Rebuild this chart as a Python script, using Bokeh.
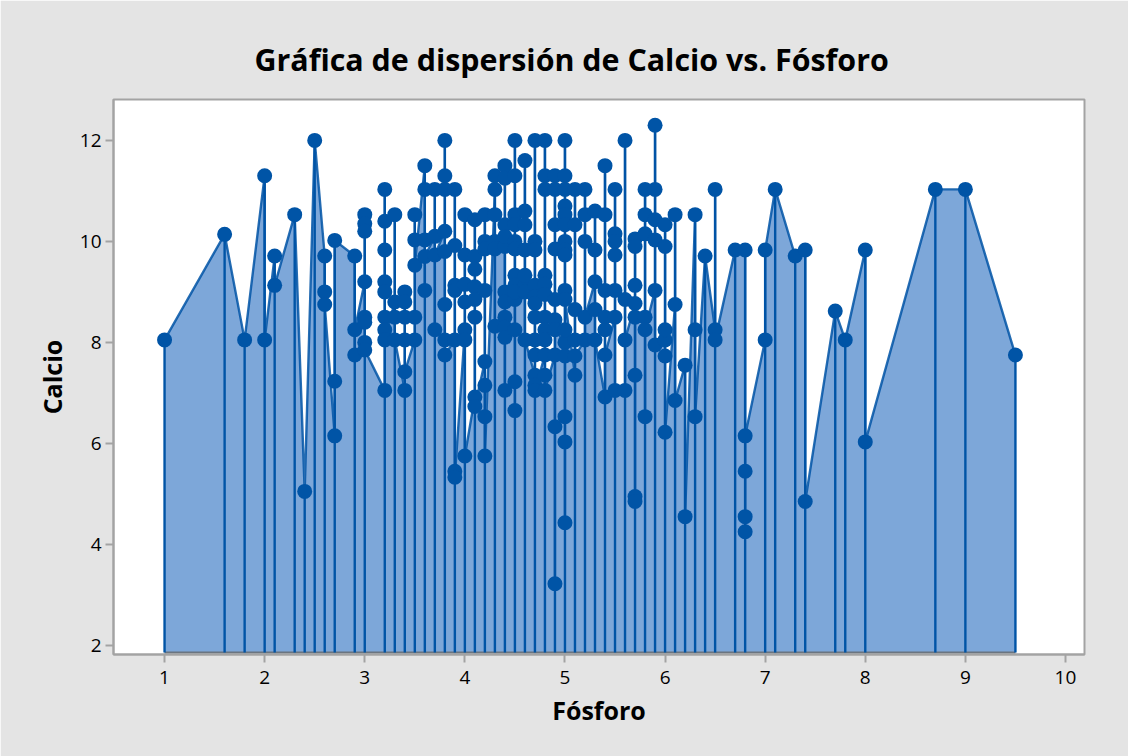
from bokeh.embed import file_html
from bokeh.resources import INLINE
from bokeh.plotting import figure
from bokeh.models import FixedTicker, Range1d

fosforo = [1.0,1.6,1.8,2.0,2.1,2.3,2.4,2.5,2.6,2.7,2.9,3.0,3.2,3.3,3.4,3.5,3.6,3.7,3.8,3.9,
           4.0,4.1,4.2,4.3,4.4,4.5,4.6,4.7,4.8,4.9,5.0,5.1,5.2,5.3,5.4,5.5,5.6,5.7,5.8,5.9,
           6.0,6.1,6.2,6.3,6.4,6.5,6.7,6.8,7.0,7.1,7.3,7.4,7.7,7.8,8.0,8.7,9.0,9.5]
calcio = [
    [8.05],[10.14],[8.05],[11.3,8.05],[9.71,9.13],[10.53],[5.05],[12.0],[9.71,9.0,8.75],
    [6.15,7.23,10.02],[9.71,7.75,8.25],[9.2,10.53,10.35,10.2,8.5,8.4,8.0,7.85],
    [7.05,11.03,10.4,9.83,9.2,9.0,8.5,8.25,8.05],[8.8,10.53,8.5,8.05],
    [7.05,9.0,8.8,8.5,8.05,7.42],[8.05,8.5,10.53,10.03,9.53],[11.5,11.03,10.03,9.03,9.7],
    [10.1,11.03,8.25,9.73],[10.2,12.0,11.3,11.03,9.8,8.75,8.05,7.75],
    [8.05,11.03,9.92,9.13,9.03,5.45,5.33],[8.25,10.53,9.73,9.15,8.8,8.05,5.75],
    [6.92,10.43,9.7,9.45,9.1,8.85,8.5,6.73],[7.62,10.53,10.0,9.85,9.03,7.15,6.53,5.75],
    [11.03,11.3,10.53,10.0,8.32,9.85],[9.9,11.5,11.25,10.33,10.1,9.0,8.5,8.3,8.1,7.05,8.8],
    [8.85,12.0,11.3,10.53,10.33,10.0,9.85,9.33,9.13,8.25,7.22,6.65,9.0],
    [9.13,11.6,10.6,10.33,9.83,9.33,9.0,8.05],[7.35,12.0,10.0,9.83,9.13,8.9,8.77,8.5,8.05,7.75,7.15,7.05],
    [7.75,12.0,11.3,11.03,9.33,9.15,8.95,8.5,8.25,8.05,7.35,7.05],
    [7.75,11.3,11.03,10.33,9.85,8.85,8.45,6.33,3.22,8.25],
    [8.0,12.0,11.3,11.03,10.7,10.53,10.33,10.0,9.83,9.73,9.03,8.25,7.73,6.53,6.03,4.43,8.85],
    [7.35,11.03,10.33,8.65,8.05,7.73],[8.05,11.03,10.53,10.0,8.5],[9.2,10.6,9.83,8.65,8.05],
    [6.92,11.5,10.53,9.03,8.5,8.25,7.75],[8.5,11.03,10.15,10.0,9.73,9.03,7.05],[7.05,12.0,8.85,8.05],
    [8.77,10.05,9.9,9.13,7.35,4.95,4.85,8.5],[8.5,11.03,10.53,10.15,6.53,8.25],
    [9.03,12.3,11.03,10.43,10.03,7.95],[8.05,10.33,9.9,8.25,7.73,6.22],[8.75,10.53,6.85],[7.55,4.55],
    [10.53,8.25,6.53],[9.71],[8.25,11.03,8.05],[9.83],[9.83,4.25,4.55,5.45,6.15],[8.05,9.83],[11.03],
    [9.71],[9.83,4.85],[8.62],[8.05],[9.83,6.03],[11.03],[11.03],[7.75]]
x_ticks = [1,2,3,4,5,6,7,8,9,10]
y_ticks = [2,4,6,8,10,12]
titulo = "Gráfica de dispersión de Calcio vs. Fósforo"

BLUE, FILL, GREY, BG = "#0054A6", "#7DA7D9", "#A3A3A3", "#E4E4E4"
FONT = "Open Sans"

px, py = [], []
for xv, ys in zip(fosforo, calcio):
    for yv in ys:
        px.append(xv)
        py.append(yv)
tops = [max(ys) for ys in calcio]

y_start, y_end = 1.82, 12.81
base = y_start + 0.04
p = figure(width=1128, height=756, output_backend="svg", toolbar_location=None,
           x_range=Range1d(0.49, 10.19), y_range=Range1d(y_start, y_end),
           min_border_left=113, min_border_right=44, min_border_top=99, min_border_bottom=102,
           background_fill_color="white", border_fill_color=BG,
           outline_line_color=GREY, outline_line_width=2)
p.grid.visible = False

p.title.text = titulo
p.title.align = "left"
p.title.offset = 141
p.title.standoff = 39
p.title.text_font = FONT
p.title.text_font_size = "30.4px"
p.title.text_font_style = "bold"
p.title.text_color = "black"

p.patch([px[0]] + px + [px[-1]], [base] + py + [base], fill_color=FILL, line_color=None)
p.line([px[0], px[-1]], [base, base], line_color="#6B7580", line_width=2)
p.segment(fosforo, [base] * len(fosforo), fosforo, tops, line_color=BLUE, line_width=2.4)
p.line(px, py, line_color=BLUE, line_width=2.4, line_alpha=0.85)
p.scatter(px, py, size=15, marker="circle", fill_color=BLUE, line_color=BLUE, line_width=0)

for ax in (p.xaxis[0], p.yaxis[0]):
    ax.axis_line_color = GREY
    ax.axis_line_width = 2
    ax.major_tick_line_color = GREY
    ax.major_tick_line_width = 2
    ax.major_tick_out = 8
    ax.major_tick_in = 0
    ax.minor_tick_line_color = None
    ax.major_label_text_font = FONT
    ax.major_label_text_font_size = "19px"
    ax.major_label_text_font_style = "normal"
    ax.major_label_text_color = "black"
    ax.axis_label_text_font = FONT
    ax.axis_label_text_font_size = "25px"
    ax.axis_label_text_font_style = "bold"
    ax.axis_label_text_color = "black"
p.xaxis[0].ticker = FixedTicker(ticks=x_ticks)
p.yaxis[0].ticker = FixedTicker(ticks=y_ticks)
p.xaxis[0].axis_label = "Fósforo"
p.yaxis[0].axis_label = "Calcio"
p.xaxis[0].major_label_standoff = 8
p.yaxis[0].major_label_standoff = 4
p.xaxis[0].axis_label_standoff = 6
p.yaxis[0].axis_label_standoff = 8

open("out.html", "w").write(file_html(p, INLINE))
